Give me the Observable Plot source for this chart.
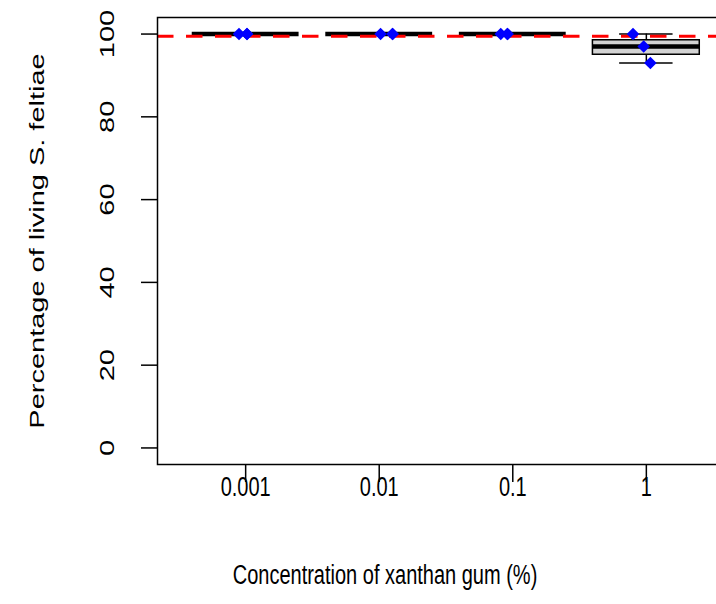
<!DOCTYPE html>
<html>
<head>
<meta charset="utf-8">
<script src="https://cdn.jsdelivr.net/npm/d3@7"></script>
<script src="https://cdn.jsdelivr.net/npm/@observablehq/plot@0.6"></script>
<style>
  html, body { margin: 0; padding: 0; background: #fff; overflow: hidden; width: 716px; height: 604px; }
  #chart { width: 734px; }
  #chart svg { display: block; overflow: hidden; max-width: none !important; width: 734px; height: 604px; }
</style>
</head>
<body>
<div id="chart"></div>
<script>
// ---- data ----
const groups = ["0.001", "0.01", "0.1", "1"];
const survival = [
  [100, 100, 100],
  [100, 100, 100],
  [100, 100, 100],
  [100, 97, 93]
];
const jitter = [
  [-0.05, 0.01, 0.01],
  [0.01, 0.1, 0.1],
  [-0.09, -0.04, -0.04],
  [-0.1, -0.02, 0.03]
];
const referenceLine = [99.5];
const yTicks = [0, 20, 40, 60, 80, 100];
const xTitle = "Concentration of xanthan gum (%)";
const yTitle = "Percentage of living S. feltiae";

// ---- derived tables ----
const stats = groups.map((g, i) => {
  const v = survival[i].slice().sort(d3.ascending);
  return {
    pos: i + 1,
    min: d3.min(v),
    q1: d3.quantile(v, 0.25),
    median: d3.median(v),
    q3: d3.quantile(v, 0.75),
    max: d3.max(v)
  };
});
const points = groups.flatMap((g, i) =>
  survival[i].map((v, j) => ({pos: i + 1 + jitter[i][j], value: v}))
);
const catTicks = groups.map((g, i) => ({pos: i + 1, label: g}));

const FONT = "Liberation Sans, Arial, sans-serif";
const FS = 20;

const chart = Plot.plot({
  width: 734,
  height: 604,
  marginLeft: 157,
  marginRight: 0,
  marginTop: 17,
  marginBottom: 140,
  style: {fontFamily: FONT, fontSize: FS + "px", background: "white", color: "black", maxWidth: "none"},
  x: {type: "linear", domain: [0.34, 4.66], axis: null},
  y: {domain: [-4, 104], axis: null},
  marks: [
    Plot.axisY({ticks: yTicks, tickSize: 16, tickFormat: () => "", label: null, strokeWidth: 1.5, stroke: "black"}),
    Plot.axisX({ticks: catTicks.map(d => d.pos), tickSize: 18, tickFormat: () => "", label: null, strokeWidth: 1.5, stroke: "black"}),
    Plot.rect(stats, {x1: d => d.pos - 0.4, x2: d => d.pos + 0.4, y1: "q1", y2: "q3", fill: "#d3d3d3", stroke: "black", strokeWidth: 1.5}),
    Plot.ruleX(stats, {x: "pos", y1: "q3", y2: "max", stroke: "black", strokeWidth: 1.5}),
    Plot.ruleX(stats, {x: "pos", y1: "min", y2: "q1", stroke: "black", strokeWidth: 1.5}),
    Plot.ruleY(stats, {y: "max", x1: d => d.pos - 0.2, x2: d => d.pos + 0.2, stroke: "black", strokeWidth: 1.5}),
    Plot.ruleY(stats, {y: "min", x1: d => d.pos - 0.2, x2: d => d.pos + 0.2, stroke: "black", strokeWidth: 1.5}),
    Plot.ruleY(stats, {y: "median", x1: d => d.pos - 0.4, x2: d => d.pos + 0.4, stroke: "black", strokeWidth: 4.5}),
    Plot.ruleY(referenceLine, {stroke: "#ff0000", strokeWidth: 3, strokeDasharray: "16.5,12.5"}),
    Plot.dot(points, {x: "pos", y: "value", symbol: "square", rotate: 45, r: 5, fill: "#0000ff", stroke: "none"}),
    Plot.frame({stroke: "black", strokeWidth: 1.5}),
    Plot.text(yTicks, {y: d => d, text: d => String(d), frameAnchor: "left", dx: -50, rotate: -90, fontSize: FS, fill: "black", textAnchor: "middle"}),
    Plot.text(catTicks, {x: "pos", text: "label", frameAnchor: "bottom", dy: 29, fontSize: FS, fill: "black", textAnchor: "middle"}),
    Plot.text([xTitle], {text: d => d, frameAnchor: "bottom", dx: -61, dy: 117, fontSize: FS, fill: "black", textAnchor: "middle"}),
    Plot.text([yTitle], {text: d => d, frameAnchor: "left", dx: -120, rotate: -90, fontSize: FS, fill: "black", textAnchor: "middle"})
  ]
});

document.getElementById("chart").appendChild(chart);

// stretch text vertically on screen (reference glyphs are taller than wide)
d3.select(chart).selectAll("text").each(function() {
  const t = this;
  const m = t.getCTM();
  const rotated = m && Math.abs(m.b) > Math.abs(m.a);
  const tr = t.getAttribute("transform") || "";
  const b = t.getBBox();
  const cx = b.x + b.width / 2, cy = b.y + b.height / 2;
  const sx = rotated ? 1.45 : 1, sy = rotated ? 1 : 1.4;
  t.setAttribute("transform", `${tr} translate(${cx},${cy}) scale(${sx},${sy}) translate(${-cx},${-cy})`);
});
</script>
</body>
</html>
